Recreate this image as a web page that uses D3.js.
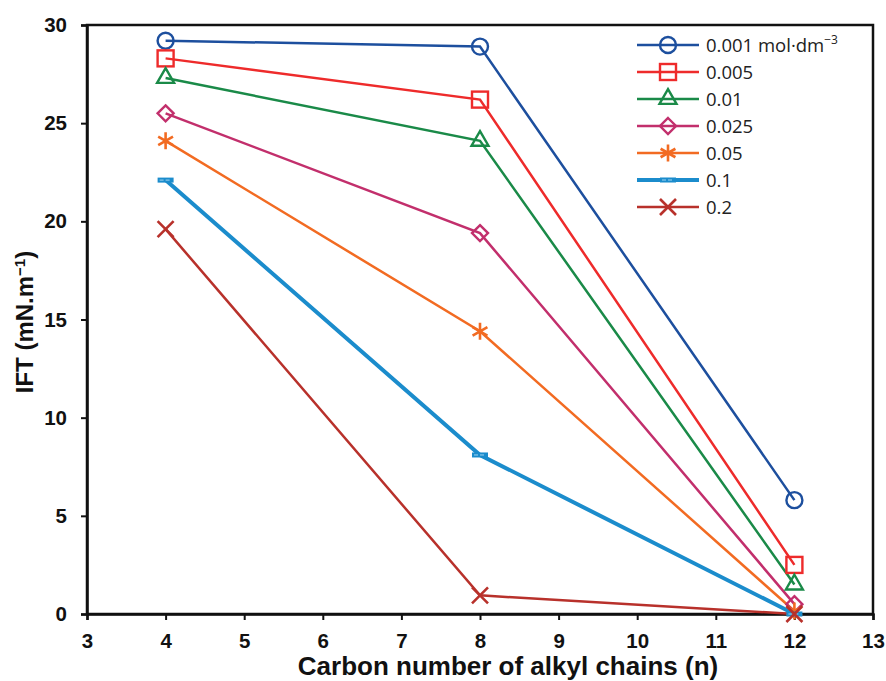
<!DOCTYPE html>
<html>
<head>
<meta charset="utf-8">
<script src="https://cdn.jsdelivr.net/npm/d3@7"></script>
<style>
  body { margin: 0; background: #fff; }
  svg { display: block; }
  .tick text { font-family: "Liberation Sans", Arial, sans-serif; font-weight: bold; font-size: 20.5px; fill: #111; }
  .legend text { font-family: "Open Sans", "Liberation Sans", sans-serif; font-size: 18.5px; fill: #222; }
  .title { font-family: "Liberation Sans", Arial, sans-serif; font-weight: bold; font-size: 26px; fill: #111; }
</style>
</head>
<body>
<svg id="chart" width="886" height="681"></svg>
<script>
// carbon number of alkyl chains
var carbons = [4, 8, 12];
var seriesNames = ["0.001", "0.005", "0.01", "0.025", "0.05", "0.1", "0.2"];
var seriesColors = ["#1d4f9e", "#ee2b2b", "#1a8a48", "#c22f6c", "#f26b22", "#1b8ccc", "#b8312b"];
var seriesMarkers = ["circle", "square", "triangle", "diamond", "asterisk", "dash", "cross"];
// IFT values (mN.m-1)
var ift001 = [29.2, 28.9, 5.8];
var ift005 = [28.3, 26.2, 2.5];
var ift01 = [27.3, 24.1, 1.5];
var ift025 = [25.5, 19.4, 0.5];
var ift05 = [24.1, 14.4, 0.15];
var ift1 = [22.1, 8.1, 0.0];
var ift2 = [19.6, 0.95, 0.0];
var xTicks = [3, 4, 5, 6, 7, 8, 9, 10, 11, 12, 13];
var yTicks = [0, 5, 10, 15, 20, 25, 30];

var allValues = [ift001, ift005, ift01, ift025, ift05, ift1, ift2];

var svg = d3.select("#chart");
var pLeft = 87, pRight = 873, pTop = 25, pBottom = 614;

var x = d3.scaleLinear().domain([3, 13]).range([pLeft, pRight]);
var y = d3.scaleLinear().domain([0, 30]).range([pBottom, pTop]);

// frame
svg.append("rect")
    .attr("x", pLeft).attr("y", pTop)
    .attr("width", pRight - pLeft).attr("height", pBottom - pTop)
    .attr("fill", "none").attr("stroke", "#111").attr("stroke-width", 2.5);

var xAxis = svg.append("g")
    .attr("transform", "translate(0," + pBottom + ")")
    .call(d3.axisBottom(x).tickValues(xTicks).tickSize(6).tickPadding(13));
var yAxis = svg.append("g")
    .attr("transform", "translate(" + pLeft + ",0)")
    .call(d3.axisLeft(y).tickValues(yTicks).tickSize(6).tickPadding(14));
[xAxis, yAxis].forEach(function(a) {
    a.select(".domain").attr("stroke", "#111").attr("stroke-width", 2.5);
    a.selectAll(".tick line").attr("stroke", "#111").attr("stroke-width", 2);
});

// axis titles
svg.append("text").attr("class", "title")
    .attr("x", 508).attr("y", 675).attr("text-anchor", "middle")
    .text("Carbon number of alkyl chains (n)");
var yt = svg.append("text").attr("class", "title")
    .attr("transform", "translate(33,322) rotate(-90)")
    .attr("text-anchor", "middle")
    .style("font-size", "24px");
yt.append("tspan").text("IFT (mN.m");
yt.append("tspan").attr("dy", -8).attr("font-size", "15px").text("\u22121");
yt.append("tspan").attr("dy", 8).text(")");

function drawMarker(g, type, color) {
    var sw = 2.4;
    if (type == "circle") {
        g.append("circle").attr("r", 8).attr("fill", "none").attr("stroke", color).attr("stroke-width", sw);
    } else if (type == "square") {
        g.append("rect").attr("x", -8).attr("y", -8).attr("width", 16).attr("height", 16)
            .attr("fill", "none").attr("stroke", color).attr("stroke-width", sw);
    } else if (type == "triangle") {
        g.append("path").attr("d", d3.symbol(d3.symbolTriangle, 125)())
            .attr("fill", "none").attr("stroke", color).attr("stroke-width", sw);
    } else if (type == "diamond") {
        g.append("path").attr("d", "M0,-8L8,0L0,8L-8,0Z")
            .attr("fill", "none").attr("stroke", color).attr("stroke-width", sw);
    } else if (type == "asterisk") {
        g.append("path").attr("d", "M0,-8.5V8.5M-7.4,-4.25L7.4,4.25M-7.4,4.25L7.4,-4.25")
            .attr("stroke", color).attr("stroke-width", 2.6);
    } else if (type == "dash") {
        g.append("rect").attr("x", -8).attr("y", -2.5).attr("width", 16).attr("height", 5)
            .attr("fill", color);
        g.append("line").attr("x1", -6).attr("x2", 6).attr("stroke", "#9fd3f0").attr("stroke-width", 1)
            .attr("stroke-dasharray", "4,2");
    } else if (type == "cross") {
        g.append("path").attr("d", "M-8,-8L8,8M-8,8L8,-8")
            .attr("stroke", color).attr("stroke-width", 2.6);
    }
}

var line = d3.line()
    .x(function(d, i) { return x(carbons[i]); })
    .y(function(d) { return y(d); });

for (var i = 0; i < allValues.length; i++) {
    svg.append("path")
        .datum(allValues[i])
        .attr("d", line)
        .attr("fill", "none")
        .attr("stroke", seriesColors[i])
        .attr("stroke-width", seriesMarkers[i] == "dash" ? 4 : 2.5);
}
for (var i = 0; i < allValues.length; i++) {
    for (var j = 0; j < carbons.length; j++) {
        var g = svg.append("g")
            .attr("transform", "translate(" + x(carbons[j]) + "," + y(allValues[i][j]) + ")");
        drawMarker(g, seriesMarkers[i], seriesColors[i]);
    }
}

// legend
var legend = svg.append("g").attr("class", "legend");
for (var i = 0; i < seriesNames.length; i++) {
    var ly = 45 + i * 27;
    legend.append("line")
        .attr("x1", 637).attr("x2", 699).attr("y1", ly).attr("y2", ly)
        .attr("stroke", seriesColors[i])
        .attr("stroke-width", seriesMarkers[i] == "dash" ? 4 : 2.5);
    drawMarker(legend.append("g").attr("transform", "translate(668," + ly + ")"), seriesMarkers[i], seriesColors[i]);
    var t = legend.append("text").attr("x", 706).attr("y", ly + 7).text(seriesNames[i]);
    if (i == 0) {
        t.append("tspan").text(" mol\u00b7dm");
        t.append("tspan").attr("dy", -8).attr("font-size", "12px").text("\u22123");
    }
}
</script>
</body>
</html>
